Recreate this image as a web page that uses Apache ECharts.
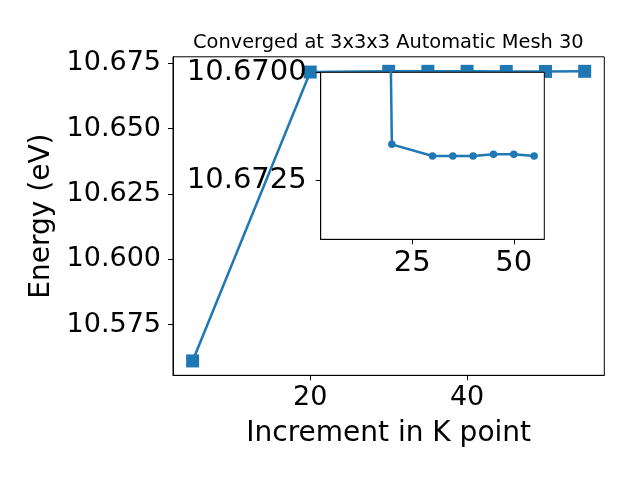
<!DOCTYPE html>
<html>
<head>
<meta charset="utf-8">
<script src="https://cdn.jsdelivr.net/npm/echarts@6/dist/echarts.min.js"></script>
<style>html,body{margin:0;padding:0;background:#fff}#c{width:640px;height:480px}</style>
</head>
<body>
<div id="c"></div>
<script>
var kPoints = [5, 20, 30, 35, 40, 45, 50, 55];
var energies = [10.5611, 10.67167, 10.67194, 10.67194, 10.67194, 10.67190, 10.67190, 10.67194];
var mainXTicks = [20, 40];
var mainYTicks = [10.575, 10.600, 10.625, 10.650, 10.675];
var insetXTicks = [25, 50];
var insetYTicks = [10.6700, 10.6725];
var titleText = 'Converged at 3x3x3 Automatic Mesh 30';
var xName = 'Increment in K point';
var yName = 'Energy (eV)';

var FONT = 'DejaVu Sans';
var BLUE = '#1f77b4';
var pts = kPoints.map(function (k, i) { return [k, energies[i]]; });

var chart = echarts.init(document.getElementById('c'), null, {renderer: 'canvas'});
chart.setOption({
  animation: false,
  backgroundColor: '#fff',
  graphic: [{
    type: 'text', left: 193, top: 33, z: 20,
    style: {text: titleText, fontFamily: FONT, fontSize: 19.4, fill: '#000'}
  }],
  grid: [
    {left: 173, right: 35.7, top: 56.8, bottom: 104.7, show: true, borderColor: '#000', borderWidth: 1, backgroundColor: 'transparent', z: 0},
    {left: 320.7, top: 72.3, width: 223.6, height: 167, show: true, borderColor: '#000', borderWidth: 1, backgroundColor: '#fff', z: 5}
  ],
  xAxis: [
    {type: 'value', gridIndex: 0, min: 2.5, max: 57.5,
     name: xName, nameLocation: 'middle', nameGap: 44,
     nameTextStyle: {fontFamily: FONT, fontSize: 28, color: '#000'},
     axisLine: {show: true, lineStyle: {color: '#000'}},
     axisTick: {show: true, length: 5, inside: false, customValues: mainXTicks, lineStyle: {color: '#000'}},
     axisLabel: {customValues: mainXTicks, fontFamily: FONT, fontSize: 27, color: '#000', margin: 9},
     splitLine: {show: false}},
    {type: 'value', gridIndex: 1, min: 2.5, max: 57.5, z: 6,
     axisLine: {show: true, lineStyle: {color: '#000'}},
     axisTick: {show: true, length: 5, inside: false, customValues: insetXTicks, lineStyle: {color: '#000'}},
     axisLabel: {customValues: insetXTicks, fontFamily: FONT, fontSize: 29, color: '#000', margin: 10},
     splitLine: {show: false}}
  ],
  yAxis: [
    {type: 'value', gridIndex: 0, min: 10.5556, max: 10.6775,
     name: yName, nameLocation: 'middle', nameGap: 113, nameRotate: 90,
     nameTextStyle: {fontFamily: FONT, fontSize: 28, color: '#000'},
     axisLine: {show: true, lineStyle: {color: '#000'}},
     axisTick: {show: true, length: 5, inside: false, customValues: mainYTicks, lineStyle: {color: '#000'}},
     axisLabel: {customValues: mainYTicks, fontFamily: FONT, fontSize: 27, color: '#000', margin: 12,
       formatter: function (v) { return v.toFixed(3); }},
     splitLine: {show: false}},
    {type: 'value', gridIndex: 1, min: 10.6700, max: 10.67387, inverse: true, z: 6,
     axisLine: {show: true, lineStyle: {color: '#000'}},
     axisTick: {show: true, length: 5, inside: false, customValues: insetYTicks, lineStyle: {color: '#000'}},
     axisLabel: {customValues: insetYTicks, fontFamily: FONT, fontSize: 29, color: '#000', margin: 14,
       showMinLabel: true, showMaxLabel: true, padding: [4, 0, 0, 0],
       formatter: function (v) { return v.toFixed(4); }},
     splitLine: {show: false}}
  ],
  series: [
    {type: 'line', xAxisIndex: 0, yAxisIndex: 0, data: pts, z: 2,
     symbol: 'rect', symbolSize: 13, clip: false,
     lineStyle: {color: BLUE, width: 2.5}, itemStyle: {color: BLUE}},
    {type: 'line', xAxisIndex: 1, yAxisIndex: 1, data: pts, z: 7,
     symbol: 'circle', symbolSize: 7.5, clip: true,
     lineStyle: {color: BLUE, width: 2.5}, itemStyle: {color: BLUE}}
  ]
});
</script>
</body>
</html>
